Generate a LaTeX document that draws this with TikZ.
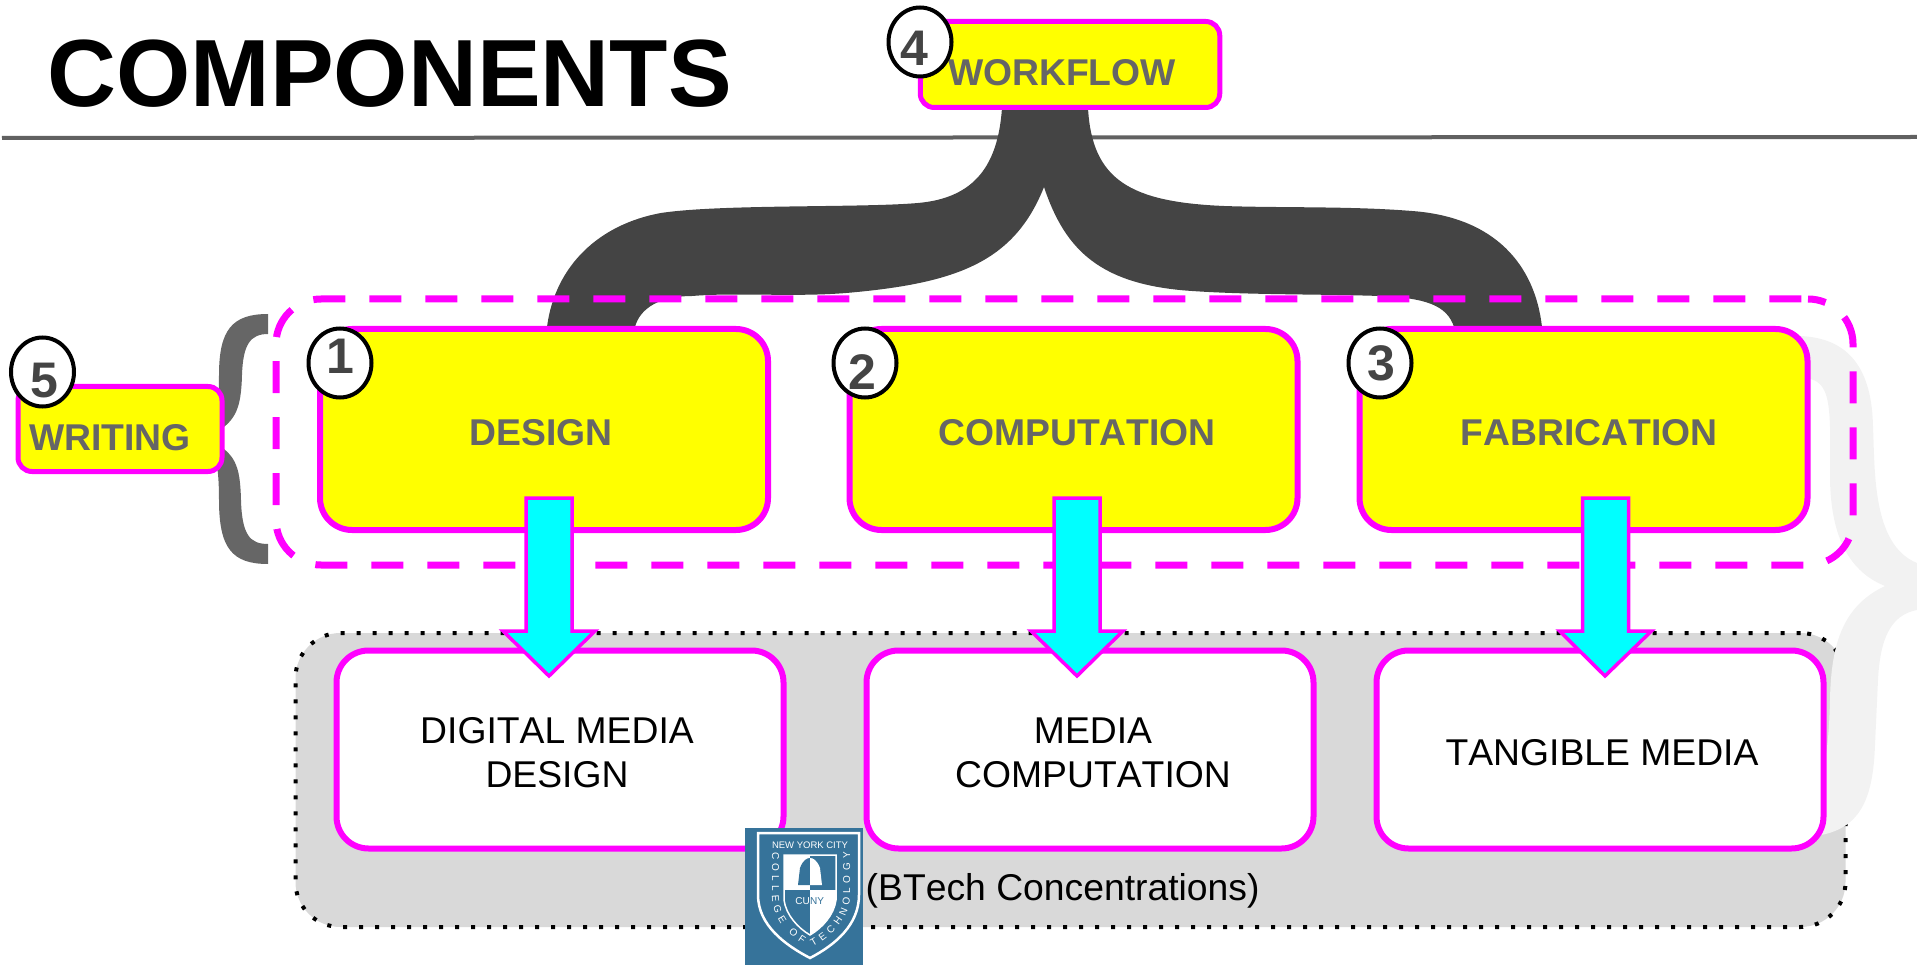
\documentclass[tikz,border=0pt]{standalone}
\usepackage{fontspec}
\setmainfont[Kerning=Off]{Liberation Sans}
\usepackage{tikz}
\usetikzlibrary{calc,shapes.geometric,decorations.text}
\definecolor{boxpink}{HTML}{FF00FF}
\definecolor{boxyellow}{HTML}{FFFF00}
\definecolor{arrowcyan}{HTML}{00FFFF}
\definecolor{textgray}{HTML}{666666}
\definecolor{bracedark}{HTML}{444444}
\definecolor{bracepale}{HTML}{F2F2F2}
\definecolor{panelgray}{HTML}{D9D9D9}
\definecolor{logoblue}{HTML}{36739A}
\tikzset{
	topicbox/.style={draw=boxpink, fill=boxyellow, line width=6pt, rounded corners=32pt, minimum width=448pt, minimum height=201pt},
	smallbox/.style={draw=boxpink, fill=boxyellow, line width=5pt, rounded corners=14pt},
	mediabox/.style={draw=boxpink, fill=white, line width=6pt, rounded corners=32pt, minimum width=447pt, minimum height=198pt},
	boldtext/.style={text=textgray, font=\fontsize{37.3}{44}\selectfont\bfseries},
	plaintext/.style={text=black, align=center, font=\fontsize{37.3}{44}\selectfont},
	numcircle/.style={ellipse, draw=black, fill=white, line width=4pt, inner sep=0pt, minimum width=63pt, minimum height=69pt},
	numtext/.style={text=bracedark, font=\fontsize{50}{50}\selectfont\bfseries},
	bigarrow/.style={draw=boxpink, fill=arrowcyan, line width=3.5pt, to path={
		let \p1=(\tikztostart), \p2=(\tikztotarget) in
		(\x1-23pt,\y1) -- (\x1+23pt,\y1) -- (\x1+23pt,\y2+45pt) -- (\x1+46pt,\y2+45pt) -- (\x2,\y2) -- (\x1-46pt,\y2+45pt) -- (\x1-23pt,\y2+45pt) -- cycle}},
}
\begin{document}
\begin{tikzpicture}[x=1pt, y=-1pt]
	\useasboundingbox (0, 0) rectangle (1917, 965);
	% title and rule
	\node (title) at (389.5, 73.5) {\fontsize{95.5}{95}\selectfont\bfseries COMPONENTS};
	\coordinate (ruleleft) at (2, 138);
	\coordinate (ruleright) at (1917, 137);
	\draw[line width=4pt, color=textgray!95!black] (ruleleft) -- (ruleright);
	% grey panel behind the lower row
	\node[draw=black, fill=panelgray, line width=4pt, dash pattern=on 4pt off 12pt, rounded corners=45pt, minimum width=1550pt, minimum height=294pt] (panel) at (1070.5, 780) {};
	% pale brace on the right
	\fill[bracepale] (1800, 336) .. controls (1850, 338) and (1872, 370) .. (1873, 427) .. controls (1875, 470) and (1872, 545) .. (1917, 563) -- (1917, 610) .. controls (1890, 615) and (1880, 640) .. (1878, 680) -- (1875, 745) .. controls (1873, 800) and (1860, 830) .. (1815, 836) -- (1815, 790) .. controls (1826, 770) and (1829, 740) .. (1830, 700) .. controls (1831, 640) and (1845, 605) .. (1885, 586) .. controls (1845, 570) and (1831, 530) .. (1830, 480) -- (1830, 427) .. controls (1829, 395) and (1825, 380) .. (1805, 378) -- cycle;
	% dark brace from the workflow box
	\fill[bracedark] (1002, 108) .. controls (998, 165) and (975, 198) .. (918, 203) .. controls (860, 208) and (720, 204) .. (661, 213) .. controls (600, 224) and (555, 265) .. (547, 327) -- (635, 327) .. controls (640, 308) and (660, 296) .. (692, 296) .. controls (740, 292) and (800, 298) .. (857, 292) .. controls (960, 282) and (1015, 260) .. (1044, 187) .. controls (1065, 250) and (1100, 285) .. (1192, 291) .. controls (1250, 295) and (1320, 294) .. (1380, 296) .. controls (1425, 298) and (1447, 305) .. (1454, 327) -- (1542, 327) .. controls (1535, 265) and (1495, 217) .. (1412, 211) .. controls (1350, 206) and (1280, 208) .. (1224, 206) .. controls (1130, 202) and (1092, 180) .. (1088, 108) -- cycle;
	% grey brace on the left
	\fill[textgray] (268, 314) .. controls (232, 314) and (219, 330) .. (219, 375) .. controls (219, 410) and (215, 430) .. (205, 438) .. controls (215, 446) and (219, 465) .. (219, 500) .. controls (219, 548) and (232, 564) .. (268, 564) -- (268, 544) .. controls (250, 544) and (242, 535) .. (241, 500) .. controls (240, 465) and (236, 452) .. (205, 438) .. controls (236, 424) and (241, 410) .. (242, 375) .. controls (243, 345) and (250, 334) .. (268, 334) -- cycle;
	% dashed group
	\node[draw=boxpink, line width=7pt, dash pattern=on 32pt off 24pt, dash phase=49.3pt, rounded corners=45pt, minimum width=1577pt, minimum height=266pt] (group) at (1064.5, 432) {};
	% boxes
	\node[topicbox, label={[boldtext,xshift=-3pt,yshift=-3pt]center:DESIGN}] (design) at (544, 429.5) {};
	\node[topicbox, label={[boldtext,xshift=3.5pt,yshift=-3pt]center:COMPUTATION}] (computation) at (1073.5, 429.5) {};
	\node[topicbox, label={[boldtext,xshift=5.5pt,yshift=-3pt]center:FABRICATION}] (fabrication) at (1583.5, 429.5) {};
	\node[smallbox, minimum width=299.5pt, minimum height=86pt, label={[boldtext,xshift=-8pt,yshift=-8pt]center:WORKFLOW}] (workflow) at (1070, 64.5) {};
	\node[smallbox, minimum width=204pt, minimum height=85pt, label={[boldtext,xshift=-10pt,yshift=-8.5pt]center:WRITING}] (writing) at (120, 429) {};
	\node[mediabox, label={[plaintext,xshift=-3pt,yshift=-3pt]center:DIGITAL MEDIA\\DESIGN}] (digital) at (560, 749.5) {};
	\node[mediabox, label={[plaintext,xshift=3pt,yshift=-3pt]center:MEDIA\\COMPUTATION}] (media) at (1090, 749.5) {};
	\node[mediabox, label={[plaintext,xshift=2pt,yshift=-3pt]center:TANGIBLE MEDIA}] (tangible) at (1600, 749.5) {};
	\node[plaintext, anchor=west, inner sep=0pt] (btech) at (865.5, 891) {(BTech Concentrations)};
	% block arrows
	\draw[bigarrow] ([xshift=5pt, yshift=35pt]design.south) to ([xshift=-11pt, yshift=-28.5pt]digital.north);
	\draw[bigarrow] ([xshift=3.5pt, yshift=35pt]computation.south) to ([xshift=-13pt, yshift=-28.5pt]media.north);
	\draw[bigarrow] ([xshift=22pt, yshift=35pt]fabrication.south) to ([xshift=5pt, yshift=-28.5pt]tangible.north);
	% numbered circles
	\node[numcircle, label={[numtext,yshift=7pt]center:1}] (numone) at (340, 363) {};
	\node[numcircle, label={[numtext,xshift=-3pt,yshift=-9pt]center:2}] (numtwo) at (865, 363) {};
	\node[numcircle, label={[numtext,xshift=1pt]center:3}] (numthree) at (1380, 363) {};
	\node[numcircle, label={[numtext,xshift=-6pt,yshift=-6pt]center:4}] (numfour) at (920, 42) {};
	\node[numcircle, label={[numtext,xshift=1.5pt,yshift=-9pt]center:5}] (numfive) at (42.5, 372) {};
	% college seal
	\node[fill=logoblue, inner sep=0pt, minimum width=118pt, minimum height=137pt] (logo) at (804, 896.5) {};
	\draw[white, line width=2.5pt] (758, 833) -- (859, 833) -- (859, 895) .. controls (859, 925) and (835, 945) .. (810, 958) .. controls (785, 945) and (758, 925) .. (758, 895) -- cycle;
	\fill[white] (784, 855) -- (810, 855) -- (810, 890) -- (784, 890) -- cycle;
	\fill[white] (810, 890) -- (836, 890) -- (836, 900) .. controls (834, 915) and (822, 928) .. (810, 935) -- cycle;
	\draw[white, line width=1.5pt] (784, 855) -- (836, 855) -- (836, 900) .. controls (834, 915) and (822, 928) .. (810, 935) .. controls (798, 928) and (786, 915) .. (784, 900) -- cycle;
	\fill[logoblue] (798, 885) -- (800, 868) .. controls (803, 860) and (807, 858) .. (810, 858) -- (810, 885) -- cycle;
	\fill[white] (822, 885) -- (820, 868) .. controls (817, 860) and (813, 858) .. (810, 858) -- (810, 885) -- cycle;
	\node[text=white, inner sep=0pt, font=\fontsize{9.5}{10}\selectfont] (logotop) at (810, 845) {NEW YORK CITY};
	\node[text=white, anchor=east, inner sep=0pt, font=\fontsize{10}{10}\selectfont] (logocu) at (810, 901) {CU};
	\node[text=logoblue, anchor=west, inner sep=0pt, font=\fontsize{10}{10}\selectfont] (logony) at (810, 901) {NY};
	\path[decorate, decoration={text along path, text align={fit to path}, text={|\fontsize{10}{10}\selectfont\color{white}|COLLEGE OF TECHNOLOGY}}] (772, 852) -- (772, 895) .. controls (772, 920) and (790, 938) .. (810, 948) .. controls (830, 938) and (850, 920) .. (850, 895) -- (850, 852);
\end{tikzpicture}
\end{document}
